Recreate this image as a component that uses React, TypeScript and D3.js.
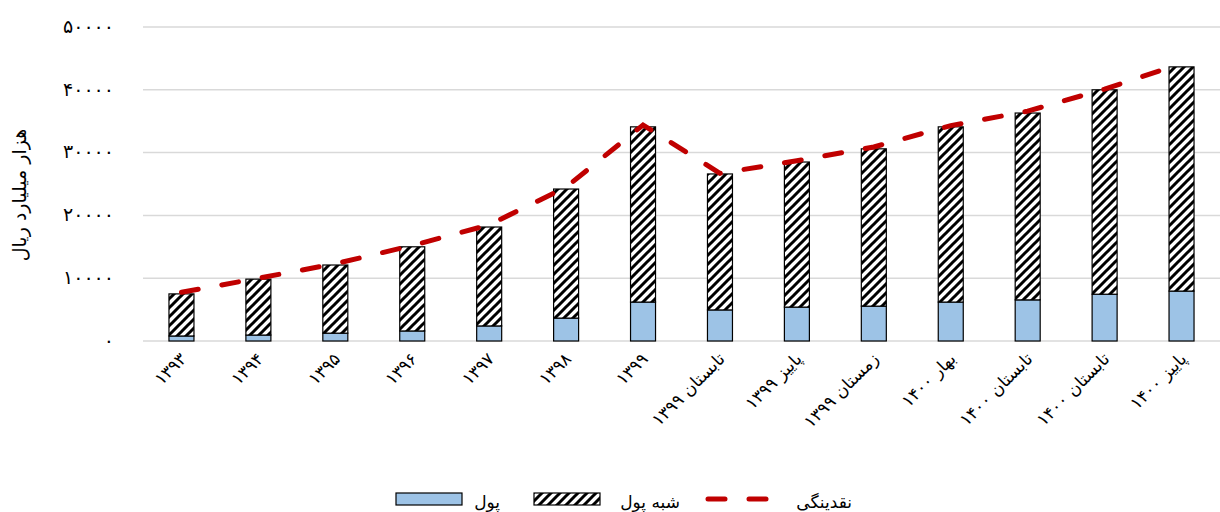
import * as d3 from "d3";
import React from "react";

// دسته‌ها و مقادیر (هزار میلیارد ریال)
const categories = [
  "۱۳۹۳", "۱۳۹۴", "۱۳۹۵", "۱۳۹۶", "۱۳۹۷", "۱۳۹۸", "۱۳۹۹",
  "تابستان ۱۳۹۹", "پاییز ۱۳۹۹", "زمستان ۱۳۹۹", "بهار ۱۴۰۰",
  "تابستان ۱۴۰۰", "تابستان ۱۴۰۰", "پاییز ۱۴۰۰",
];
const pool = [800, 950, 1250, 1600, 2400, 3650, 6200, 4950, 5400, 5550, 6200, 6550, 7450, 7950];
const quasiPool = [6700, 8900, 10850, 13400, 15750, 20550, 27900, 21650, 23100, 25050, 27900, 29750, 32550, 35700];
const liquidity = [7750, 10000, 12300, 15200, 18500, 24500, 34400, 26700, 28700, 30900, 34300, 36600, 40100, 44200];
const yTicks = [0, 10000, 20000, 30000, 40000, 50000];

const W = 1220;
const H = 512;
const FONT = "'DejaVu Sans', sans-serif";

const toFa = (n: number) =>
  String(n).replace(/\d/g, (d) => "۰۱۲۳۴۵۶۷۸۹"[Number(d)]);

export default function App() {
  const x = d3.scaleBand<number>()
    .domain(categories.map((_, i) => i))
    .range([143, 1220]);
  const y = d3.scaleLinear().domain([0, 50000]).range([341, 27]);
  const barW = 25;
  const cx = (i: number) => (x(i) as number) + x.bandwidth() / 2;

  const line = d3.line<number>()
    .x((_, i) => cx(i))
    .y((d) => y(d));

  return (
    <svg width={W} height={H} style={{ position: "absolute", left: 0, top: 0 }}>
      <defs>
        <pattern id="hatch" patternUnits="userSpaceOnUse" width="9" height="9">
          <rect width="9" height="9" fill="#fff" />
          <path d="M-2,2 l4,-4 M0,9 l9,-9 M7,11 l4,-4" stroke="#000" strokeWidth="3" />
        </pattern>
      </defs>

      {/* خطوط شبکه */}
      {yTicks.map((t) => (
        <g key={t}>
          <line x1={143} x2={1220} y1={y(t)} y2={y(t)} stroke="#d9d9d9" strokeWidth={1.5} />
          <text x={114} y={y(t)} dy="0.3em" textAnchor="end" fontFamily={FONT} fontSize={19} letterSpacing={1.5} fill="#000">
            {toFa(t)}
          </text>
        </g>
      ))}

      <text
        transform={`translate(26,195) rotate(-90)`}
        textAnchor="middle"
        fontFamily={FONT}
        fontSize={19}
        fill="#000"
      >
        هزار میلیارد ریال
      </text>

      {/* ستون‌ها */}
      {categories.map((_, i) => (
        <g key={i}>
          <rect
            x={cx(i) - barW / 2}
            y={y(pool[i])}
            width={barW}
            height={y(0) - y(pool[i])}
            fill="#9DC3E6"
            stroke="#000"
            strokeWidth={1.2}
          />
          <rect
            x={cx(i) - barW / 2}
            y={y(pool[i] + quasiPool[i])}
            width={barW}
            height={y(pool[i]) - y(pool[i] + quasiPool[i])}
            fill="url(#hatch)"
            stroke="#000"
            strokeWidth={1.2}
          />
        </g>
      ))}

      {/* نقدینگی */}
      <path
        d={line(liquidity) ?? ""}
        fill="none"
        stroke="#C00000"
        strokeWidth={5}
        strokeDasharray="17,24"
        strokeLinecap="round"
      />

      {/* برچسب‌های محور افقی */}
      {categories.map((c, i) => (
        <text
          key={i}
          transform={`translate(${cx(i) + 6},${360}) rotate(-45)`}
          textAnchor="end"
          fontFamily={FONT}
          fontSize={17}
          fill="#000"
        >
          {c}
        </text>
      ))}

      {/* راهنما */}
      <g fontFamily={FONT} fontSize={17} fill="#000">
        <rect x={396} y={493} width={66} height={12} fill="#9DC3E6" stroke="#000" strokeWidth={1.2} />
        <text x={500} y={508} textAnchor="end">پول</text>
        <rect x={534} y={493} width={66} height={12} fill="url(#hatch)" stroke="#000" strokeWidth={1.2} />
        <text x={680} y={508} textAnchor="end">شبه پول</text>
        <line x1={708} x2={770} y1={499} y2={499} stroke="#C00000" strokeWidth={5} strokeDasharray="17,24" strokeLinecap="round" />
        <text x={852} y={508} textAnchor="end">نقدینگی</text>
      </g>
    </svg>
  );
}
